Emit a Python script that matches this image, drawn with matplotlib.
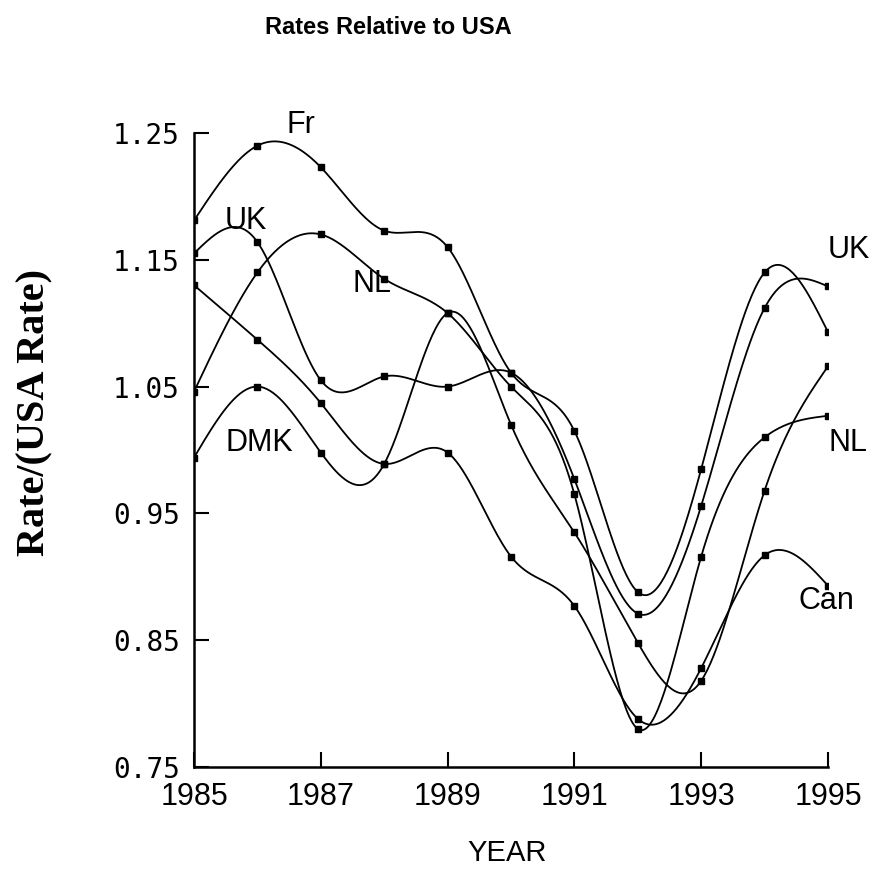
import numpy as np
import matplotlib
matplotlib.use("Agg")
import matplotlib.pyplot as plt
from matplotlib import font_manager

years = [1985, 1986, 1987, 1988, 1989, 1990, 1991, 1992, 1993, 1994, 1995]
fr  = [1.181, 1.240, 1.223, 1.173, 1.160, 1.061, 1.015, 0.888, 0.985, 1.140, 1.093]
uk  = [1.155, 1.164, 1.055, 1.058, 1.050, 1.061, 0.977, 0.871, 0.956, 1.112, 1.129]
nl  = [1.046, 1.140, 1.170, 1.135, 1.108, 1.050, 0.965, 0.780, 0.916, 1.010, 1.027]
dmk = [0.994, 1.050, 0.998, 0.989, 1.108, 1.020, 0.935, 0.848, 0.818, 0.968, 1.066]
can = [1.130, 1.087, 1.037, 0.989, 0.998, 0.916, 0.877, 0.788, 0.828, 0.917, 0.893]
series = [fr, uk, nl, dmk, can]

yticks = [0.75, 0.85, 0.95, 1.05, 1.15, 1.25]
xticks = [1985, 1987, 1989, 1991, 1993, 1995]


def has_font(name):
    try:
        font_manager.findfont(font_manager.FontProperties(family=name), fallback_to_default=False)
        return True
    except Exception:
        return False

narrow = "Liberation Sans Narrow" if has_font("Liberation Sans Narrow") else "Liberation Sans"


def natural_spline(x, y, n=400):
    x = np.asarray(x, float); y = np.asarray(y, float)
    k = len(x); h = np.diff(x)
    A = np.zeros((k, k)); b = np.zeros(k)
    A[0, 0] = 1; A[-1, -1] = 1
    for i in range(1, k - 1):
        A[i, i - 1] = h[i - 1]; A[i, i] = 2 * (h[i - 1] + h[i]); A[i, i + 1] = h[i]
        b[i] = 6 * ((y[i + 1] - y[i]) / h[i] - (y[i] - y[i - 1]) / h[i - 1])
    M = np.linalg.solve(A, b)
    xs = np.linspace(x[0], x[-1], n)
    idx = np.clip(np.searchsorted(x, xs) - 1, 0, k - 2)
    x0, x1 = x[idx], x[idx + 1]; hh = x1 - x0
    ys = (M[idx] * (x1 - xs) ** 3 / (6 * hh) + M[idx + 1] * (xs - x0) ** 3 / (6 * hh)
          + (y[idx] / hh - M[idx] * hh / 6) * (x1 - xs)
          + (y[idx + 1] / hh - M[idx + 1] * hh / 6) * (xs - x0))
    return xs, ys


fig = plt.figure(figsize=(8.77, 8.69), dpi=100)
ax = fig.add_axes([194 / 877, 1 - 767 / 869, (828 - 194) / 877, (767 - 133) / 869])

for s in series:
    xs, ys = natural_spline(years, s)
    ax.plot(xs, ys, color="black", lw=1.3)
    ax.plot(years, s, ls="none", marker="s", ms=5, color="black")

ax.set_xlim(1985, 1995)
ax.set_ylim(0.75, 1.25)
ax.set_xticks(xticks)
ax.set_xticklabels([str(t) for t in xticks], fontfamily=narrow, fontsize=22)
ax.set_yticks(yticks)
ax.set_yticklabels([f"{t:.2f}" for t in yticks], fontfamily="DejaVu Sans Mono", fontsize=20)
ax.tick_params(direction="in", length=11, width=1.5, colors="black")
ax.tick_params(axis="x", pad=11)
ax.tick_params(axis="y", pad=10)
for side in ["top", "right"]:
    ax.spines[side].set_visible(False)
for side in ["left", "bottom"]:
    ax.spines[side].set_linewidth(1.8)

lab = dict(fontfamily="Liberation Sans", fontsize=22, color="black")
ax.text(1986.46, 1.25 - (133 - 133) / 1270, "Fr", va="baseline", **lab)
ax.text(1985.49, 1.25 - (229 - 133) / 1270, "UK", va="baseline", **lab)
ax.text(1987.50, 1.25 - (292 - 133) / 1270, "NL", va="baseline", **lab)
ax.text(1985.49, 1.25 - (452 - 133) / 1270, "DMK", va="baseline", **lab)
ax.text(1995.0, 1.25 - (258 - 133) / 1270, "UK", va="baseline", **lab)
ax.text(1995.0, 1.25 - (452 - 133) / 1270, "NL", va="baseline", **lab)
ax.text(1994.53, 1.25 - (610 - 133) / 1270, "Can", va="baseline", **lab)
for t in ax.texts:
    t.set_clip_on(False)

fig.text(388 / 877, 1 - 27 / 869, "Rates Relative to USA", ha="center", va="center",
         fontfamily=narrow, fontsize=17, fontweight="bold")
fig.text(507 / 877, 1 - 853 / 869, "YEAR", ha="center", va="center",
         fontfamily=narrow, fontsize=21)
fig.text(35 / 877, 1 - 412 / 869, "Rate/(USA Rate)", ha="center", va="center",
         rotation=90, fontfamily="Liberation Serif", fontweight="bold", fontsize=29)

fig.savefig("out.png", dpi=100)
